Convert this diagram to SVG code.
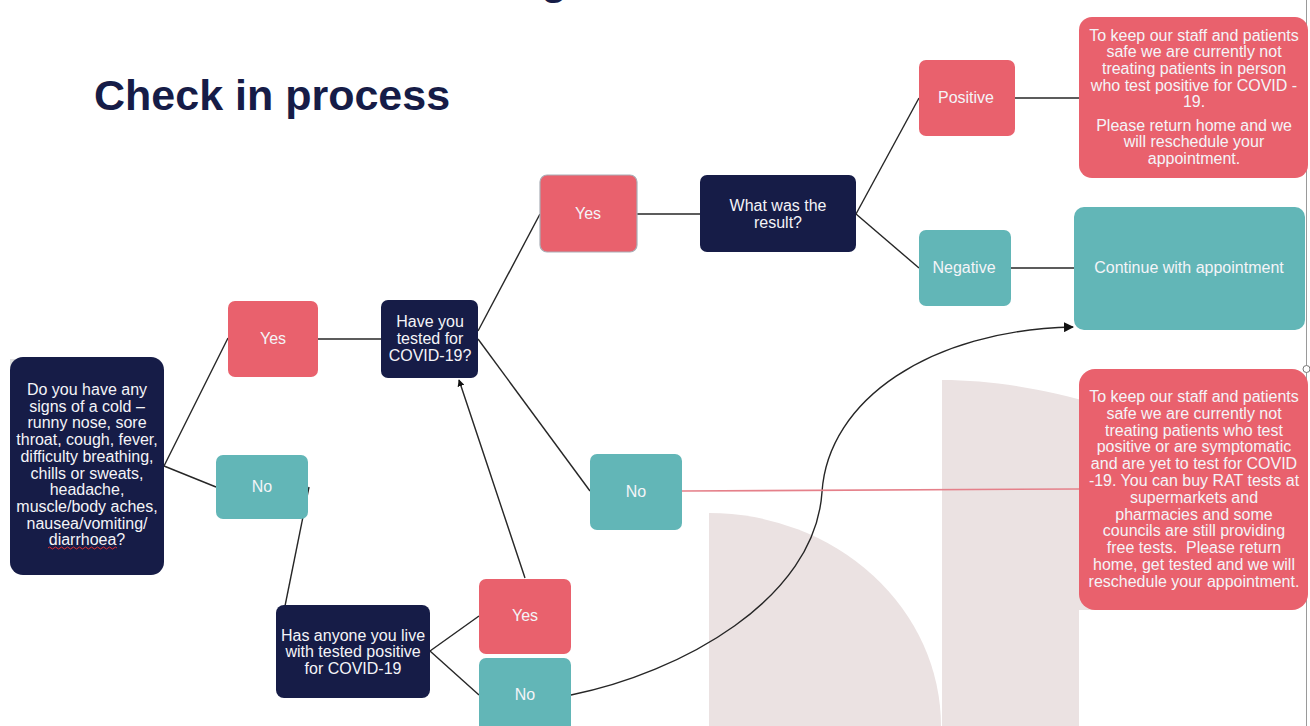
<svg xmlns="http://www.w3.org/2000/svg" width="1310" height="726" viewBox="0 0 1310 726">
<defs>
<style>
.t{font-family:"Liberation Sans",Arial,sans-serif;font-size:16px;fill:#f4f4f8;text-anchor:middle}
.navy{fill:#161c47}
.pink{fill:#e9616d}
.teal{fill:#62b6b7}
.ln{stroke:#262626;stroke-width:1.4;fill:none}
</style>
<marker id="ah" viewBox="0 0 10 10" refX="9" refY="5" markerWidth="7" markerHeight="7" orient="auto" markerUnits="userSpaceOnUse">
<path d="M0,0 L10,5 L0,10 z" fill="#111"/>
</marker>
<marker id="ah2" viewBox="0 0 10 10" refX="9" refY="5" markerWidth="10" markerHeight="10" orient="auto" markerUnits="userSpaceOnUse">
<path d="M0,0 L10,5 L0,10 z" fill="#111"/>
</marker>
</defs>
<rect width="1310" height="726" fill="#ffffff"/>
<g id="background">
<path d="M709,726 L709,513 A232,213 0 0 1 941,726 Z" fill="#ebe2e2"/>
<path d="M942,726 L942,380 C990,380 1040,388 1100,405 L1100,610 L1079,610 L1079,726 Z" fill="#ebe2e2"/>
<line x1="1306.5" y1="0" x2="1306.5" y2="726" stroke="#9a9a9a" stroke-width="1"/>
<rect x="10" y="359" width="5" height="17" fill="#e0e0e0"/>
</g>
<g id="title">
<text x="541" y="-6" font-family="Liberation Sans,Arial,sans-serif" font-size="43" font-weight="bold" fill="#161c47">g</text>
<text x="94" y="110" font-family="Liberation Sans,Arial,sans-serif" font-size="43" font-weight="bold" fill="#161c47">Check in process</text>
</g>
<g id="connectors">
<line class="ln" x1="164" y1="466" x2="228" y2="338"/>
<line class="ln" x1="164" y1="466" x2="216" y2="487"/>
<line class="ln" x1="318" y1="339" x2="381" y2="339"/>
<line class="ln" x1="478" y1="331" x2="540" y2="214"/>
<line class="ln" x1="478" y1="339" x2="590" y2="491"/>
<line class="ln" x1="637" y1="214" x2="700" y2="214"/>
<line class="ln" x1="856" y1="214" x2="919" y2="98"/>
<line class="ln" x1="856" y1="214" x2="919" y2="268"/>
<line class="ln" x1="1015" y1="98" x2="1079" y2="98"/>
<line class="ln" x1="1011" y1="268" x2="1074" y2="268"/>
<line class="ln" x1="309" y1="487" x2="285" y2="606"/>
<line class="ln" x1="430" y1="651" x2="479" y2="616"/>
<line class="ln" x1="430" y1="651" x2="479" y2="695"/>
<line class="ln" x1="525" y1="578" x2="459" y2="380" stroke="#555" marker-end="url(#ah)"/>
<path class="ln" d="M571,695 C680,673 815,600 822,492 C828,400 930,330 1073,327" marker-end="url(#ah2)"/>
<line x1="682" y1="491" x2="1079" y2="489" stroke="#e5808a" stroke-width="1.6"/>
</g>
<g id="n_symptoms">
<rect class="navy" x="10" y="357" width="154" height="218" rx="13"/>
<text class="t"><tspan x="87" y="395">Do you have any</tspan><tspan x="87" y="411.7">signs of a cold –</tspan><tspan x="87" y="428.4">runny nose, sore</tspan><tspan x="87" y="445.1">throat, cough, fever,</tspan><tspan x="87" y="461.8">difficulty breathing,</tspan><tspan x="87" y="478.5">chills or sweats,</tspan><tspan x="87" y="495.2">headache,</tspan><tspan x="87" y="511.9">muscle/body aches,</tspan><tspan x="87" y="528.6">nausea/vomiting/</tspan><tspan x="87" y="545.3">diarrhoea?</tspan></text>
<path d="M48,548 q1.5,-2 3,0 t3,0 t3,0 t3,0 t3,0 t3,0 t3,0 t3,0 t3,0 t3,0 t3,0 t3,0 t3,0 t3,0 t3,0 t3,0 t3,0 t3,0 t3,0 t3,0 t3,0 t3,0 t3,0" fill="none" stroke="#e03030" stroke-width="1"/>
</g>
<g id="n_yes1">
<rect class="pink" x="228" y="301" width="90" height="76" rx="7"/>
<text class="t" x="273" y="344">Yes</text>
</g>
<g id="n_no1">
<rect class="teal" x="216" y="455" width="92" height="64" rx="7"/>
<text class="t" x="262" y="492">No</text>
</g>
<g id="n_tested">
<rect class="navy" x="381" y="300" width="97" height="78" rx="7"/>
<text class="t"><tspan x="430" y="327">Have you</tspan><tspan x="430" y="344">tested for</tspan><tspan x="430" y="361">COVID-19?</tspan></text>
</g>
<g id="n_yes2">
<rect class="pink" x="540" y="175" width="97" height="77" rx="7" stroke="#a9aeb6" stroke-width="1.2"/>
<text class="t" x="588" y="219">Yes</text>
</g>
<g id="n_result">
<rect class="navy" x="700" y="175" width="156" height="77" rx="7"/>
<text class="t"><tspan x="778" y="211">What was the</tspan><tspan x="778" y="228">result?</tspan></text>
</g>
<g id="n_positive">
<rect class="pink" x="919" y="60" width="96" height="76" rx="7"/>
<text class="t" x="966" y="103">Positive</text>
</g>
<g id="n_negative">
<rect class="teal" x="919" y="230" width="92" height="76" rx="7"/>
<text class="t" x="964" y="273">Negative</text>
</g>
<g id="n_msg1">
<rect class="pink" x="1079" y="17" width="229" height="161" rx="13"/>
<text class="t"><tspan x="1194" y="40.5">To keep our staff and patients</tspan><tspan x="1194" y="57.2">safe we are currently not</tspan><tspan x="1194" y="73.9">treating patients in person</tspan><tspan x="1194" y="90.6">who test positive for COVID -</tspan><tspan x="1194" y="107.3">19.</tspan><tspan x="1194" y="130.5">Please return home and we</tspan><tspan x="1194" y="147.2">will reschedule your</tspan><tspan x="1194" y="163.9">appointment.</tspan></text>
</g>
<g id="n_continue">
<rect class="teal" x="1074" y="207" width="231" height="123" rx="10"/>
<text class="t" x="1189" y="273">Continue with appointment</text>
</g>
<g id="n_no2">
<rect class="teal" x="590" y="454" width="92" height="76" rx="7"/>
<text class="t" x="636" y="497">No</text>
</g>
<g id="n_msg2">
<rect class="pink" x="1079" y="369" width="229" height="241" rx="16"/>
<text class="t"><tspan x="1194" y="402">To keep our staff and patients</tspan><tspan x="1194" y="418.8">safe we are currently not</tspan><tspan x="1194" y="435.6">treating patients who test</tspan><tspan x="1194" y="452.4">positive or are symptomatic</tspan><tspan x="1194" y="469.2">and are yet to test for COVID</tspan><tspan x="1194" y="486">-19. You can buy RAT tests at</tspan><tspan x="1194" y="502.8">supermarkets and</tspan><tspan x="1194" y="519.6">pharmacies and some</tspan><tspan x="1194" y="536.4">councils are still providing</tspan><tspan x="1194" y="553.2">free tests.&#160; Please return</tspan><tspan x="1194" y="570">home, get tested and we will</tspan><tspan x="1194" y="586.8">reschedule your appointment.</tspan></text>
</g>
<g id="n_household">
<rect class="navy" x="276" y="605" width="154" height="93" rx="8"/>
<text class="t"><tspan x="353" y="640.5">Has anyone you live</tspan><tspan x="353" y="657.2">with tested positive</tspan><tspan x="353" y="673.9">for COVID-19</tspan></text>
</g>
<g id="n_yes3">
<rect class="pink" x="479" y="579" width="92" height="75" rx="7"/>
<text class="t" x="525" y="621">Yes</text>
</g>
<g id="n_no3">
<rect class="teal" x="479" y="658" width="92" height="80" rx="7"/>
<text class="t" x="525" y="700">No</text>
</g>
<g id="handle">
<circle cx="1306.5" cy="369" r="3.5" fill="#ffffff" stroke="#777" stroke-width="1"/>
</g>
</svg>
